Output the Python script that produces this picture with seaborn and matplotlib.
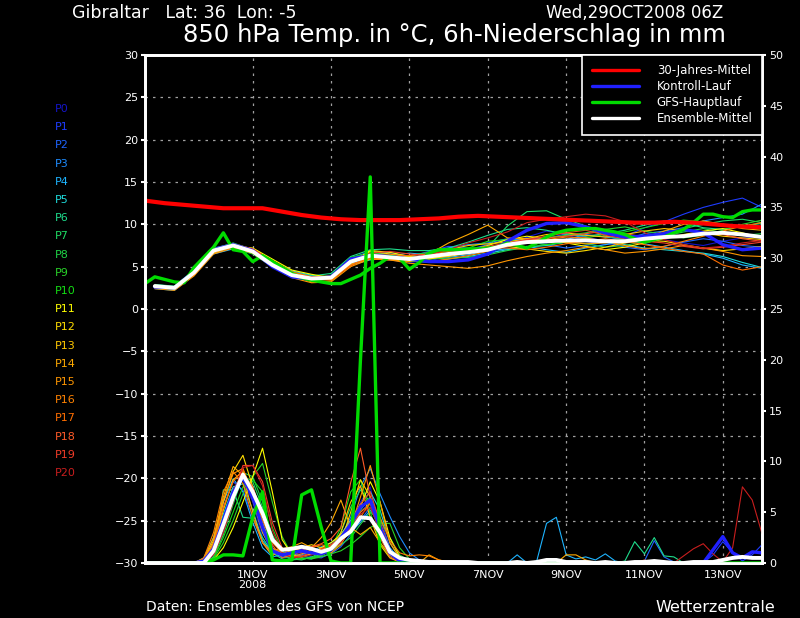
import numpy as np
import pandas as pd
import matplotlib
matplotlib.use("Agg")
import matplotlib.pyplot as plt
import seaborn as sns
from matplotlib.lines import Line2D

# ---------------- data ----------------
# hours since 29OCT2008 06Z
t_temp = list(range(6, 379, 12))        # 32 member temperature steps
t_prec = list(range(0, 379, 6))         # 64 precipitation steps
t_gfs = list(range(0, 379, 6))          # 64 GFS temperature steps
t_clim = list(range(0, 385, 12))        # 33 climatology steps

xtick_hours = [66, 114, 162, 210, 258, 306, 354]
xtick_labels = ["1NOV\n2008", "3NOV", "5NOV", "7NOV", "9NOV", "11NOV", "13NOV"]

members = ["P%d" % k for k in range(21)]
member_colors = ['#1414c8', '#1e3cff', '#1e64ff', '#1e8cff', '#1eb4ff', '#1edcdc',
                 '#1edc8c', '#1edc64', '#1ed246', '#28d228', '#14dc14',
                 '#ffff00', '#ffdc00', '#ffc800', '#ffaa00', '#ff9600',
                 '#ff8200', '#ff6e00', '#ff5a28', '#f03c28', '#c81e1e']

clim_temp = [12.8, 12.5, 12.3, 12.1, 11.9, 11.9, 11.9, 11.5, 11.1, 10.8, 10.6,
             10.5, 10.5, 10.5, 10.6, 10.7, 10.9, 11.0, 10.9, 10.8, 10.7, 10.6,
             10.5, 10.4, 10.3, 10.2, 10.2, 10.3, 10.2, 10.0, 9.8, 9.7, 9.6]

gfs_temp = [3.0, 3.8, 3.5, 3.2, 3.1, 4.9, 6.1, 7.3, 9.0, 7.0, 6.8, 5.6, 6.3, 5.6, 4.9, 4.2,
            3.7, 3.4, 3.2, 3.0, 3.0, 3.5, 4.0, 4.8, 5.4, 6.2, 6.0, 4.7, 5.5, 6.6, 7.0, 7.0,
            7.0, 7.1, 7.1, 7.2, 7.3, 7.8, 7.5, 7.2, 7.8, 8.5, 9.0, 9.3, 9.4, 9.5, 9.5, 9.3,
            9.1, 8.8, 8.3, 7.9, 8.2, 8.5, 9.0, 9.4, 10.2, 11.2, 11.2, 10.9, 10.8, 11.5, 11.7, 11.7]

ctrl_temp = [2.6, 2.5, 4.4, 7.0, 7.6, 6.9, 5.0, 3.8, 3.5, 3.8, 5.9, 6.3, 6.2, 5.9, 5.6, 5.6,
             5.8, 6.5, 8.0, 9.3, 10.1, 10.2, 9.7, 9.0, 8.5, 8.6, 8.9, 9.4, 9.0, 7.6, 7.0, 7.2]

mean_temp = [2.7, 2.5, 4.3, 6.9, 7.5, 6.8, 5.2, 4.0, 3.6, 3.7, 5.6, 6.3, 6.1, 5.9, 6.2, 6.5,
             6.7, 7.0, 7.6, 7.9, 8.0, 8.1, 8.1, 8.0, 8.0, 8.3, 8.5, 8.6, 8.9, 9.0, 8.8, 8.5]

member_temp = [
    [2.6, 2.4, 4.0, 6.6, 7.3, 6.9, 5.3, 4.1, 3.4, 3.5, 5.9, 6.0, 5.8, 5.5, 5.7, 6.2,
     6.0, 6.4, 7.3, 8.5, 9.2, 8.8, 8.0, 7.6, 7.9, 8.4, 8.2, 7.8, 7.5, 8.0, 8.4, 8.6],
    [2.8, 2.6, 4.4, 7.0, 7.6, 6.7, 5.0, 3.9, 3.7, 3.9, 5.4, 6.4, 6.5, 6.2, 6.8, 7.4,
     7.2, 7.0, 7.8, 8.4, 8.3, 8.9, 8.5, 8.0, 8.6, 9.6, 10.3, 11.2, 12.0, 12.6, 13.1, 12.0],
    [2.5, 2.3, 4.1, 6.8, 7.2, 6.5, 5.1, 4.2, 3.8, 3.5, 5.3, 6.5, 6.7, 6.1, 6.0, 6.3,
     7.0, 7.6, 8.2, 8.0, 7.6, 7.2, 7.5, 7.9, 7.3, 7.0, 7.4, 7.9, 8.3, 8.0, 7.5, 7.3],
    [2.7, 2.5, 4.6, 7.2, 7.7, 7.0, 5.4, 4.0, 3.6, 3.9, 6.0, 6.8, 6.4, 6.0, 6.6, 7.2,
     7.6, 7.8, 8.3, 8.1, 7.8, 8.2, 8.8, 8.5, 8.2, 8.9, 9.2, 9.6, 10.4, 10.8, 11.2, 12.4],
    [2.4, 2.2, 4.0, 6.5, 7.1, 6.6, 5.3, 4.4, 3.9, 3.8, 5.5, 6.1, 6.3, 6.6, 6.4, 6.1,
     6.4, 6.9, 7.1, 7.4, 7.0, 6.7, 7.2, 7.6, 8.0, 7.7, 7.3, 6.9, 6.5, 6.0, 5.2, 4.8],
    [2.6, 2.3, 4.2, 6.7, 7.4, 6.8, 5.6, 4.5, 4.0, 3.7, 5.2, 5.8, 6.0, 5.7, 5.5, 5.9,
     6.2, 6.6, 7.0, 7.3, 7.5, 7.9, 8.3, 8.0, 7.6, 7.2, 7.0, 6.8, 6.6, 6.2, 5.5, 4.9],
    [2.9, 2.7, 4.6, 7.0, 7.4, 6.6, 5.5, 4.3, 3.9, 4.2, 6.2, 7.0, 7.1, 6.9, 6.9, 7.2,
     7.9, 8.7, 9.4, 9.6, 9.3, 8.8, 8.6, 8.9, 9.3, 9.9, 10.4, 10.2, 9.6, 9.4, 9.8, 10.1],
    [2.8, 2.6, 4.5, 7.1, 7.8, 7.0, 5.2, 3.8, 3.3, 3.6, 5.8, 6.6, 6.3, 5.8, 6.0, 6.4,
     6.8, 7.3, 9.8, 11.5, 11.6, 10.6, 9.8, 8.6, 8.2, 8.5, 9.0, 9.5, 10.0, 10.4, 10.6, 10.2],
    [2.5, 2.3, 4.2, 6.9, 7.5, 6.9, 5.4, 4.1, 3.5, 3.6, 5.7, 6.2, 5.9, 5.6, 5.9, 6.0,
     6.1, 6.4, 6.9, 7.3, 7.6, 7.9, 7.7, 7.3, 7.5, 8.0, 8.6, 9.1, 9.5, 9.0, 8.7, 8.9],
    [2.7, 2.6, 4.3, 7.0, 7.7, 7.1, 5.6, 4.3, 3.8, 3.9, 5.6, 6.1, 6.0, 6.3, 6.7, 7.0,
     6.8, 7.0, 7.5, 8.0, 8.4, 8.7, 9.0, 9.4, 9.7, 9.2, 8.8, 8.4, 8.7, 9.3, 10.0, 10.5],
    [2.6, 2.5, 4.4, 6.9, 7.3, 6.5, 5.0, 3.9, 3.7, 4.0, 6.1, 6.6, 6.4, 6.0, 6.2, 6.5,
     7.2, 8.0, 8.2, 7.9, 7.6, 7.9, 8.4, 8.8, 9.1, 9.6, 10.1, 10.5, 10.3, 9.9, 9.7, 9.6],
    [2.5, 2.4, 4.1, 6.6, 7.4, 7.2, 5.9, 4.6, 4.1, 3.7, 5.4, 6.9, 6.7, 6.2, 5.9, 6.3,
     6.9, 7.5, 8.2, 8.6, 8.3, 7.8, 7.4, 7.0, 7.3, 7.8, 8.3, 8.8, 9.2, 9.5, 9.0, 8.4],
    [2.7, 2.6, 4.5, 7.1, 7.6, 6.9, 5.1, 3.9, 3.4, 3.5, 5.5, 6.8, 6.5, 6.1, 6.0, 6.2,
     6.6, 7.2, 7.4, 7.1, 6.8, 6.6, 6.9, 7.3, 7.8, 8.1, 8.0, 7.6, 7.2, 6.9, 7.1, 7.4],
    [2.6, 2.5, 4.3, 6.8, 7.5, 7.0, 5.5, 4.3, 3.7, 3.6, 5.9, 6.2, 6.2, 5.8, 6.3, 7.0,
     7.5, 7.7, 7.9, 8.3, 8.8, 9.0, 8.7, 8.5, 8.8, 9.2, 9.5, 9.3, 9.0, 8.6, 8.4, 8.2],
    [2.8, 2.5, 4.2, 6.7, 7.3, 6.7, 5.3, 4.0, 3.2, 3.3, 5.3, 5.9, 5.8, 5.6, 6.5, 7.8,
     8.8, 9.9, 8.4, 8.3, 8.1, 7.9, 7.7, 7.8, 8.1, 8.4, 9.2, 10.0, 10.4, 10.0, 9.5, 9.3],
    [2.4, 2.2, 3.9, 6.5, 7.2, 6.6, 5.0, 3.7, 3.1, 3.2, 5.0, 5.9, 5.8, 5.4, 5.2, 5.0,
     4.8, 5.1, 5.7, 6.2, 6.6, 6.9, 7.3, 7.0, 6.6, 6.8, 7.1, 7.5, 7.2, 6.8, 6.3, 6.2],
    [2.5, 2.4, 4.0, 6.7, 7.4, 6.9, 5.4, 4.2, 3.6, 3.4, 5.2, 6.0, 5.9, 5.7, 5.6, 5.9,
     6.3, 6.8, 7.4, 7.9, 8.2, 8.5, 8.4, 8.0, 7.5, 7.1, 7.4, 8.0, 8.6, 9.2, 9.8, 10.2],
    [2.6, 2.4, 4.1, 6.8, 7.5, 7.1, 5.7, 4.4, 3.8, 3.5, 5.1, 6.2, 6.4, 6.3, 6.5, 6.8,
     7.0, 7.3, 7.2, 7.0, 7.3, 7.7, 8.0, 8.3, 8.0, 7.6, 7.2, 6.8, 6.5, 5.2, 4.6, 5.0],
    [2.7, 2.6, 4.4, 7.0, 7.6, 7.0, 5.4, 4.1, 3.7, 3.8, 5.8, 6.4, 6.2, 5.9, 6.1, 6.4,
     6.6, 7.1, 7.7, 8.1, 8.4, 8.6, 8.9, 9.2, 8.9, 8.5, 8.3, 8.7, 9.1, 8.8, 8.3, 8.0],
    [2.8, 2.6, 4.5, 7.1, 7.7, 7.1, 5.5, 4.2, 3.7, 3.9, 5.7, 6.6, 6.8, 6.5, 6.3, 6.6,
     7.0, 7.4, 7.8, 8.2, 8.6, 9.0, 9.3, 8.7, 8.3, 8.0, 7.8, 7.4, 7.1, 7.3, 7.6, 7.9],
    [2.6, 2.5, 4.3, 6.9, 7.6, 7.0, 5.4, 4.1, 3.8, 3.9, 5.8, 6.5, 6.3, 6.0, 6.4, 7.0,
     7.8, 8.4, 9.1, 10.2, 10.6, 10.9, 11.2, 11.0, 10.3, 9.0, 8.2, 7.6, 7.2, 7.4, 7.8, 8.1],
]

gfs_prec = [0, 0, 0, 0, 0, 0, 0, 0.3,
            0.8, 0.8, 0.7, 4.5, 7.0, 0.3, 0.2, 0.3,
            6.7, 7.2, 3.5, 0.2, 0, 0, 20.0, 38.0,
            0, 0, 0, 0, 0, 0, 0, 0,
            0, 0, 0, 0, 0, 0, 0, 0,
            0, 0, 0, 0, 0, 0, 0, 0,
            0, 0, 0, 0, 0, 0, 0, 0,
            0, 0, 0, 0, 0, 0, 0, 0]

ctrl_prec = [0, 0, 0, 0, 0, 0, 0.2, 1.4,
             4.2, 7.0, 8.4, 6.5, 3.5, 1.2, 0.8, 1.0,
             1.2, 1.0, 0.9, 1.3, 2.5, 3.8, 5.5, 6.2,
             3.5, 1.0, 0.2, 0, 0, 0, 0, 0,
             0, 0, 0, 0, 0, 0, 0, 0,
             0, 0, 0, 0, 0, 0, 0, 0,
             0, 0, 0, 0, 0, 0, 0, 0,
             0, 0, 1.3, 2.6, 1.0, 0.5, 1.1, 1.0]

mean_prec = [0, 0, 0, 0, 0, 0, 0, 1.2,
             3.8, 6.5, 8.7, 7.0, 4.9, 2.3, 1.3, 1.4,
             1.6, 1.4, 1.1, 1.4, 2.4, 3.1, 4.5, 4.4,
             3.0, 1.1, 0.5, 0.3, 0.2, 0.1, 0.1, 0.1,
             0.1, 0.1, 0, 0, 0, 0, 0.1, 0,
             0.1, 0.3, 0.3, 0.1, 0.1, 0.1, 0, 0.1,
             0, 0, 0.1, 0.1, 0.2, 0.1, 0, 0,
             0.1, 0.1, 0.1, 0.3, 0.5, 0.6, 0.5, 0.5]

member_prec = [
    [0, 0, 0, 0, 0, 0, 0.2, 1.5, 4.5, 7.0, 8.2, 6.0, 2.5, 1.0, 0.8, 0.6,
     1.0, 0.8, 1.2, 1.5, 2.2, 3.5, 6.0, 7.5, 3.0, 0.8, 0.2, 0, 0, 0, 0, 0,
     0, 0, 0, 0, 0, 0, 0, 0, 0, 0, 0, 0, 0, 0, 0, 0,
     0, 0, 0, 0, 0, 0, 0, 0, 0, 0, 0, 0, 0, 0, 0, 0],
    [0, 0, 0, 0, 0, 0, 0.3, 2.0, 5.5, 8.0, 7.2, 4.5, 2.0, 0.8, 1.0, 1.2,
     1.0, 0.6, 0.5, 1.0, 2.0, 3.2, 5.0, 6.0, 4.5, 1.5, 0.3, 0.1, 0, 0, 0, 0,
     0, 0, 0, 0, 0, 0, 0, 0, 0, 0, 0.3, 0.2, 0, 0, 0, 0,
     0, 0, 0, 0, 0, 0, 0, 0, 0, 0, 0.8, 2.1, 1.0, 0.2, 0.8, 1.8],
    [0, 0, 0, 0, 0, 0, 0, 1.0, 3.5, 6.8, 9.0, 6.5, 3.0, 1.2, 0.5, 0.9,
     1.4, 1.0, 0.6, 0.9, 1.6, 2.8, 4.2, 5.5, 3.2, 1.0, 0.3, 0, 0, 0, 0, 0,
     0, 0, 0, 0, 0, 0, 0, 0, 0, 0.3, 0.4, 0, 0, 0, 0, 0,
     0, 0, 0, 0.2, 2.2, 0.6, 0.1, 0, 0, 0, 0, 0, 0, 0, 0, 0],
    [0, 0, 0, 0, 0, 0, 0.1, 0.8, 3.0, 6.0, 8.5, 7.6, 4.0, 1.5, 0.6, 0.5,
     0.8, 1.2, 1.6, 2.0, 2.6, 4.5, 7.5, 9.3, 6.8, 4.6, 2.6, 1.0, 0.3, 0.1, 0, 0,
     0, 0, 0, 0, 0, 0, 0, 0, 0, 0, 0, 0, 0, 0, 0, 0,
     0, 0, 0, 0, 0, 0, 0, 0, 0, 0, 0, 0, 0, 0, 0, 0],
    [0, 0, 0, 0, 0, 0, 0.5, 2.5, 6.0, 8.3, 7.0, 4.0, 1.5, 0.6, 0.8, 0.9,
     0.7, 0.5, 0.8, 1.3, 2.2, 3.0, 4.0, 5.2, 3.8, 1.5, 0.4, 0.1, 0, 0, 0, 0,
     0, 0, 0, 0, 0, 0, 0.8, 0, 0.2, 3.9, 4.5, 0.8, 0.4, 0.6, 0.3, 0.9,
     0.2, 0, 0, 0, 0, 0, 0, 0, 0, 0, 0, 0, 0, 0, 0, 0],
    [0, 0, 0, 0, 0, 0, 0.2, 1.8, 4.8, 7.5, 7.8, 5.2, 2.2, 1.0, 0.9, 0.7,
     0.5, 0.4, 0.9, 1.6, 2.8, 4.2, 5.8, 7.0, 5.2, 2.0, 0.5, 0.1, 0, 0, 0, 0,
     0, 0, 0, 0, 0, 0, 0, 0, 0, 0, 0, 0, 0, 0, 0, 0,
     0, 0, 0, 0, 0, 0, 0, 0, 0, 0, 0, 0, 0, 0, 0, 0],
    [0, 0, 0, 0, 0, 0, 0.1, 0.5, 7.2, 7.2, 4.5, 4.4, 2.5, 1.0, 0.4, 0.3,
     0.6, 0.9, 1.4, 1.8, 2.5, 3.8, 5.2, 6.5, 4.0, 1.2, 0.2, 0, 0, 0, 0, 0,
     0, 0, 0, 0, 0, 0, 0, 0, 0, 0, 0, 0, 0, 0, 0, 0,
     0, 0.2, 2.1, 0.9, 2.5, 0.7, 0.6, 0, 0, 0, 0, 0, 0, 0, 0, 0],
    [0, 0, 0, 0, 0, 0, 0, 0.6, 2.8, 5.8, 8.6, 8.0, 5.5, 2.8, 1.0, 0.4,
     0.3, 0.6, 1.0, 1.5, 3.0, 5.5, 7.2, 6.0, 3.5, 1.2, 0.3, 0, 0, 0, 0, 0,
     0, 0, 0, 0, 0, 0, 0, 0, 0, 0, 0, 0, 0, 0, 0, 0,
     0, 0, 0, 0, 0, 0, 0, 0, 0, 0, 0, 0, 0, 0, 0, 0],
    [0, 0, 0, 0, 0, 0, 0.1, 1.0, 3.8, 6.6, 8.9, 8.5, 6.0, 2.5, 0.8, 0.3,
     0.4, 0.5, 0.7, 1.2, 1.8, 2.5, 3.8, 5.0, 4.2, 2.5, 0.8, 0.2, 0, 0, 0, 0,
     0, 0, 0, 0, 0, 0, 0, 0, 0, 0, 0, 0, 0, 0, 0, 0,
     0, 0, 0, 0, 0, 0, 0, 0, 0, 0, 0, 0, 0, 0, 0, 0],
    [0, 0, 0, 0, 0, 0, 0, 0.4, 2.0, 4.2, 6.8, 8.5, 9.8, 6.0, 2.6, 0.8,
     0.5, 0.4, 0.6, 0.9, 1.2, 1.8, 2.6, 3.5, 3.9, 3.9, 1.5, 0.4, 0.1, 0, 0, 0,
     0, 0, 0, 0, 0, 0, 0, 0, 0, 0, 0, 0, 0, 0, 0, 0,
     0, 0, 0, 0, 0, 0, 0, 0, 0, 0, 0, 0, 0, 0, 0, 0],
    [0, 0, 0, 0, 0, 0, 0, 0.5, 2.5, 5.0, 7.5, 8.2, 7.0, 3.5, 1.2, 0.6,
     0.4, 0.5, 0.8, 1.4, 3.5, 7.0, 8.2, 5.0, 2.0, 0.6, 0.1, 0, 0, 0, 0, 0,
     0, 0, 0, 0, 0, 0, 0, 0, 0, 0, 0, 0, 0, 0, 0, 0,
     0, 0, 0, 0, 0, 0, 0, 0, 0, 0, 0, 0, 0, 0, 0, 0],
    [0, 0, 0, 0, 0, 0, 0, 0.3, 1.5, 3.5, 6.0, 8.5, 11.3, 7.0, 2.3, 0.8,
     0.6, 0.9, 1.5, 2.0, 2.8, 4.0, 5.5, 8.0, 6.0, 2.5, 0.6, 0.1, 0, 0, 0, 0,
     0, 0, 0, 0, 0, 0, 0, 0, 0, 0, 0, 0, 0, 0, 0, 0,
     0, 0, 0, 0, 0, 0, 0, 0, 0, 0, 0, 0, 0, 0, 0, 0],
    [0, 0, 0, 0, 0, 0, 0.3, 2.2, 6.0, 9.0, 10.6, 7.5, 3.8, 1.5, 0.9, 1.2,
     1.5, 1.8, 1.5, 1.2, 2.0, 5.0, 8.2, 6.5, 3.0, 0.8, 0.2, 0, 0, 0, 0, 0,
     0, 0, 0, 0, 0, 0, 0, 0, 0, 0, 0, 0, 0, 0, 0, 0,
     0, 0, 0, 0, 0, 0, 0, 0, 0, 0, 0, 0, 0, 0, 0, 0],
    [0, 0, 0, 0, 0, 0, 0.2, 1.6, 5.2, 8.2, 9.0, 6.2, 3.0, 1.2, 1.5, 1.0,
     1.2, 1.0, 0.8, 1.4, 3.0, 6.0, 7.6, 4.5, 1.8, 0.5, 0.1, 0, 0, 0, 0, 0,
     0, 0, 0, 0, 0, 0, 0, 0, 0, 0, 0, 0, 0, 0, 0, 0,
     0, 0, 0, 0, 0, 0, 0, 0, 0, 0, 0, 0, 0, 0, 0, 0],
    [0, 0, 0, 0, 0, 0, 0.4, 2.5, 6.5, 9.5, 8.6, 5.0, 2.0, 0.7, 1.4, 1.6,
     2.0, 1.5, 2.5, 4.0, 6.2, 3.5, 2.8, 3.5, 2.0, 0.8, 0.3, 0, 0, 0.8, 0.3, 0.1,
     0, 0, 0, 0, 0, 0, 0, 0, 0, 0, 0, 0.8, 0.8, 0.3, 0, 0,
     0, 0, 0, 0, 0, 0, 0, 0, 0, 0, 0, 0, 0, 0, 0, 0],
    [0, 0, 0, 0, 0, 0, 0.3, 2.0, 6.2, 8.8, 9.3, 6.8, 3.2, 1.5, 0.8, 0.6,
     0.9, 1.3, 1.1, 1.0, 1.8, 3.5, 6.5, 9.6, 6.0, 2.0, 0.5, 0.1, 0, 0, 0, 0,
     0, 0, 0, 0, 0, 0, 0, 0, 0, 0, 0, 0, 0, 0, 0, 0,
     0, 0, 0, 0, 0, 0, 0, 0, 0, 0, 0, 0, 0, 0, 0, 0],
    [0, 0, 0, 0, 0, 0, 0.5, 3.0, 7.0, 9.0, 7.8, 4.5, 2.0, 1.0, 1.3, 1.5,
     1.2, 0.9, 1.3, 1.8, 2.4, 3.0, 4.5, 6.0, 4.5, 2.2, 1.0, 0.7, 0.8, 0.7, 0.3, 0.1,
     0, 0, 0, 0, 0, 0, 0, 0, 0, 0, 0, 0, 0, 0, 0, 0,
     0, 0, 0, 0, 0, 0, 0, 0, 0, 0, 0, 0, 0, 0, 0, 0],
    [0, 0, 0, 0, 0, 0, 0.2, 1.8, 5.5, 8.0, 9.2, 7.0, 4.2, 2.0, 1.0, 0.8,
     1.1, 1.5, 1.8, 1.6, 2.2, 3.6, 5.0, 5.8, 3.5, 1.0, 0.2, 0, 0, 0, 0, 0,
     0, 0, 0, 0, 0, 0, 0, 0, 0, 0, 0, 0, 0, 0, 0, 0,
     0, 0, 0, 0, 0, 0, 0, 0, 0, 0, 0, 0, 0, 0, 0, 0],
    [0, 0, 0, 0, 0, 0, 0.1, 1.2, 4.0, 7.2, 8.8, 7.5, 4.8, 1.8, 0.5, 0.8,
     1.3, 1.6, 1.9, 2.4, 3.5, 7.9, 11.3, 6.5, 2.5, 0.6, 0.1, 0, 0, 0, 0, 0,
     0, 0, 0, 0, 0, 0, 0, 0, 0, 0, 0, 0, 0, 0, 0, 0,
     0, 0, 0, 0.3, 0, 0, 0, 0, 0, 0, 0, 0, 0, 0, 0, 0],
    [0, 0, 0, 0, 0, 0, 0.1, 1.0, 3.5, 6.5, 9.6, 9.6, 8.0, 4.0, 1.5, 0.6,
     0.7, 1.0, 1.4, 1.8, 2.5, 4.0, 5.8, 7.0, 4.0, 1.3, 0.3, 0, 0, 0, 0, 0,
     0, 0, 0, 0, 0, 0, 0, 0, 0, 0, 0, 0, 0, 0, 0, 0,
     0, 0, 0, 0, 0, 0, 0, 0, 0, 0, 0, 0, 0, 0, 0, 0],
    [0, 0, 0, 0, 0, 0, 0, 0.8, 3.0, 6.0, 9.4, 9.6, 7.6, 3.2, 1.0, 0.5,
     0.6, 0.8, 1.0, 1.4, 2.0, 3.4, 4.8, 5.5, 3.2, 1.0, 0.2, 0, 0, 0, 0, 0,
     0, 0, 0, 0, 0, 0, 0, 0, 0, 0, 0, 0, 0, 0, 0, 0,
     0, 0, 0, 0, 0, 0, 0, 0.7, 1.4, 1.9, 0.9, 0.1, 1.5, 7.5, 6.2, 2.9],
]

legend_labels = ["30-Jahres-Mittel", "Kontroll-Lauf", "GFS-Hauptlauf", "Ensemble-Mittel"]
legend_colors = ["#ff0000", "#2020ff", "#00dc00", "#ffffff"]

# ---------------- tidy frames ----------------
df_mt = pd.DataFrame({
    "t": np.tile(t_temp, len(members)),
    "val": np.concatenate(member_temp),
    "member": np.repeat(members, len(t_temp)),
})
df_mp = pd.DataFrame({
    "t": np.tile(t_prec, len(members)),
    "val": np.concatenate(member_prec),
    "member": np.repeat(members, len(t_prec)),
})
palette = dict(zip(members, member_colors))

# ---------------- figure ----------------
sns.set_theme(style="dark")
plt.rcParams["font.family"] = ["DejaVu Sans"]
plt.rcParams["axes.unicode_minus"] = True

fig = plt.figure(figsize=(8, 6.18), dpi=100, facecolor="black")
ax = fig.add_axes([145 / 800, 55 / 618, 617 / 800, 508 / 618])
ax.set_facecolor("black")
ax2 = ax.twinx()

# temperature
sns.lineplot(data=df_mt, x="t", y="val", hue="member", palette=palette,
             estimator=None, lw=0.8, legend=False, ax=ax)
sns.lineplot(x=t_temp, y=ctrl_temp, color="#2020ff", lw=2.4, ax=ax)
sns.lineplot(x=t_gfs, y=gfs_temp, color="#00dc00", lw=2.4, ax=ax)
sns.lineplot(x=t_temp, y=mean_temp, color="#ffffff", lw=2.8, ax=ax)
sns.lineplot(x=t_clim, y=clim_temp, color="#ff0000", lw=3.0, ax=ax)

# precipitation
sns.lineplot(data=df_mp, x="t", y="val", hue="member", palette=palette,
             estimator=None, lw=0.8, legend=False, ax=ax2)
sns.lineplot(x=t_prec, y=ctrl_prec, color="#2020ff", lw=2.4, ax=ax2)
sns.lineplot(x=t_prec, y=gfs_prec, color="#00dc00", lw=2.4, ax=ax2)
sns.lineplot(x=t_prec, y=mean_prec, color="#ffffff", lw=2.8, ax=ax2)

ax.set_xlim(0, 378)
ax.set_ylim(-30, 30)
ax2.set_ylim(0, 50)
ax.set_xlabel("")
ax.set_ylabel("")
ax2.set_ylabel("")

ax.set_yticks(range(-30, 31, 5))
ax2.set_yticks(range(0, 51, 5))
ax.set_xticks(xtick_hours)
ax.set_xticklabels(xtick_labels, linespacing=1.0)

ax.tick_params(axis="y", colors="white", labelsize=8, length=3, width=1.5, pad=2,
               left=True, direction="out")
ax2.tick_params(axis="y", colors="white", labelsize=8, length=3, width=1.5, pad=2,
                right=True, direction="out")
ax.tick_params(axis="x", colors="white", labelsize=8, length=0, pad=5)

ax.grid(True, color="#a0a0a0", linestyle=(0, (2, 4)), lw=0.9)
ax2.grid(False)

for a in (ax, ax2):
    for s in a.spines.values():
        s.set_color("white")
        s.set_linewidth(2)
        s.set_visible(True)

handles = [Line2D([0], [0], color=c, lw=2.4) for c in legend_colors]
leg = ax2.legend(handles, legend_labels, loc="upper right", bbox_to_anchor=(1, 1),
                 borderaxespad=0, frameon=True, fancybox=False, facecolor="black",
                 edgecolor="white", framealpha=1, fontsize=8.5, labelcolor="white",
                 handlelength=4.0, handletextpad=1.5, labelspacing=0.25, borderpad=0.8)
leg.get_frame().set_linewidth(1.2)

# texts
fig.text(72 / 800, 1 - 13 / 618, "Gibraltar   Lat: 36  Lon: -5", color="white",
         fontsize=12.5, va="center", ha="left")
fig.text(723 / 800, 1 - 13 / 618, "Wed,29OCT2008 06Z", color="white",
         fontsize=12, va="center", ha="right")
fig.text(454 / 800, 1 - 35 / 618, "850 hPa Temp. in °C, 6h-Niederschlag in mm",
         color="white", fontsize=17.5, va="center", ha="center")
fig.text(146 / 800, 1 - 607 / 618, "Daten: Ensembles des GFS von NCEP", color="white",
         fontsize=10, va="center", ha="left")
fig.text(775 / 800, 1 - 607 / 618, "Wetterzentrale", color="white",
         fontsize=11.5, va="center", ha="right")

for k, (name, col) in enumerate(zip(members, member_colors)):
    fig.text(55 / 800, 1 - (109 + 18.2 * k) / 618, name, color=col,
             fontsize=8, va="center", ha="left")

fig.savefig("out.png", dpi=100, facecolor="black")
